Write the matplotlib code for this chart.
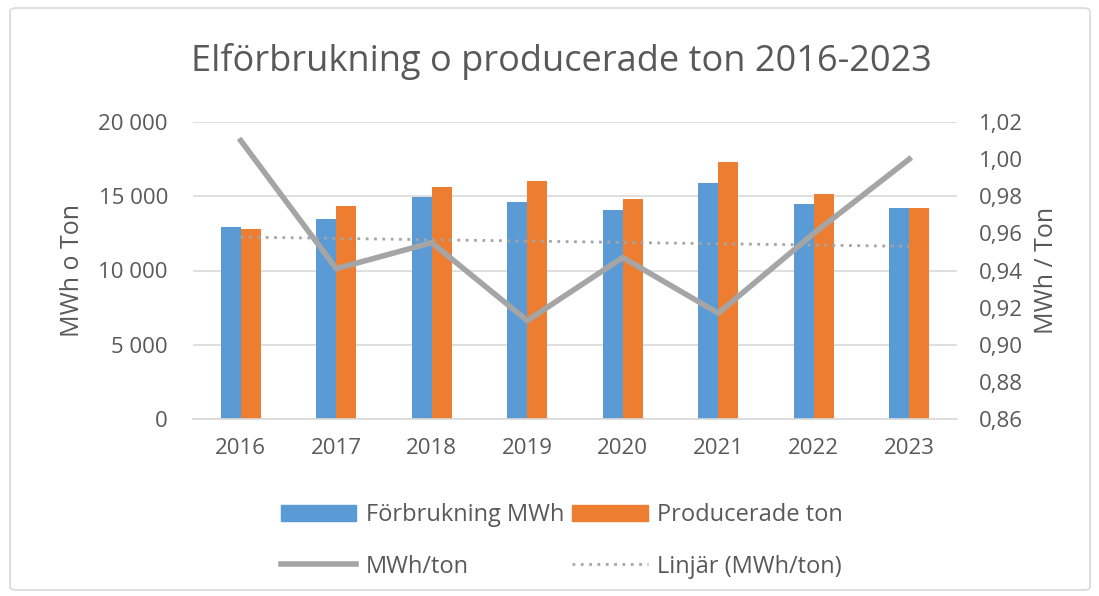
import numpy as np
import matplotlib
matplotlib.use("Agg")
import matplotlib.pyplot as plt
from matplotlib.patches import FancyBboxPatch
from matplotlib.lines import Line2D
from matplotlib.patches import Patch

plt.rcParams['font.family'] = ['Open Sans', 'DejaVu Sans']

# Data
years = ["2016", "2017", "2018", "2019", "2020", "2021", "2022", "2023"]
forbrukning = [12920, 13480, 14980, 14620, 14090, 15880, 14470, 14200]
producerade = [12790, 14310, 15650, 16060, 14800, 17330, 15140, 14200]
mwh_per_ton = [1.010, 0.941, 0.955, 0.913, 0.947, 0.917, 0.960, 1.000]
trend_ends = [0.958, 0.953]   # Linjär (MWh/ton), 2016 and 2023

blue = "#5B9BD5"
orange = "#ED7D31"
gray = "#A5A5A5"
text_col = "#595959"

fig = plt.figure(figsize=(10.99, 5.96), dpi=100)
ax = fig.add_axes([193 / 1099, 1 - 419 / 596, (957 - 193) / 1099, (419 - 122) / 596])

x = np.arange(len(years))
w = 0.21
ax.bar(x - w / 2, forbrukning, w, color=blue, zorder=2)
ax.bar(x + w / 2, producerade, w, color=orange, zorder=2)

ax.set_xlim(-0.5, len(years) - 0.5)
ax.set_ylim(0, 20000)
ax.set_yticks(np.arange(0, 20001, 5000))
ax.set_yticklabels([f"{v:,}".replace(",", " ") for v in range(0, 20001, 5000)])
ax.set_xticks(x)
ax.set_xticklabels(years)
ax.grid(axis="y", color="#D9D9D9", linewidth=1.2, zorder=0)
ax.set_axisbelow(True)
for s in ["top", "left", "right"]:
    ax.spines[s].set_visible(False)
ax.spines["bottom"].set_color("#D9D9D9")
ax.spines["bottom"].set_linewidth(1.2)
ax.tick_params(axis="y", length=0, labelsize=16, colors=text_col, pad=18)
ax.tick_params(axis="x", length=0, labelsize=16, colors=text_col, pad=14)
ax.set_ylabel("MWh o Ton", fontsize=18, color=text_col, labelpad=10)

ax2 = ax.twinx()
ax2.plot(x, mwh_per_ton, color=gray, linewidth=4, zorder=3)
ax2.plot([x[0], x[-1]], trend_ends, color=gray, linestyle=(0, (1, 2)), linewidth=2, zorder=3)
ax2.set_ylim(0.86, 1.02)
yt = np.round(np.arange(0.86, 1.0201, 0.02), 2)
ax2.set_yticks(yt)
ax2.set_yticklabels([f"{v:.2f}".replace(".", ",") for v in yt])
for s in ["top", "left", "right", "bottom"]:
    ax2.spines[s].set_visible(False)
ax2.tick_params(length=0, labelsize=16, colors=text_col, pad=16)
ax2.set_ylabel("MWh / Ton", fontsize=18, color=text_col, labelpad=8)

fig.text(561 / 1099, 1 - 62 / 596, "Elförbrukning o producerade ton 2016-2023",
         ha="center", va="center", fontsize=26, color=text_col)

handles = [Patch(color=blue), Line2D([], [], color=gray, linewidth=4),
           Patch(color=orange), Line2D([], [], color=gray, linestyle=(0, (1, 2)), linewidth=2)]
labels = ["Förbrukning MWh", "MWh/ton", "Producerade ton", "Linjär (MWh/ton)"]
fig.legend(handles, labels, ncol=2, loc="center", bbox_to_anchor=(562 / 1099, 1 - 541 / 596),
           frameon=False, fontsize=17, labelcolor=text_col, handlelength=3.2,
           handleheight=0.7, columnspacing=0.35, handletextpad=0.4, labelspacing=1.15,
           borderpad=0)

border = FancyBboxPatch((10 / 1099, 6 / 596), 1080 / 1099, 582 / 596,
                        boxstyle="round,pad=0,rounding_size=0.006",
                        transform=fig.transFigure, fill=False,
                        edgecolor="#D9D9D9", linewidth=1.2)
fig.patches.append(border)

fig.savefig("out.png", dpi=100)
